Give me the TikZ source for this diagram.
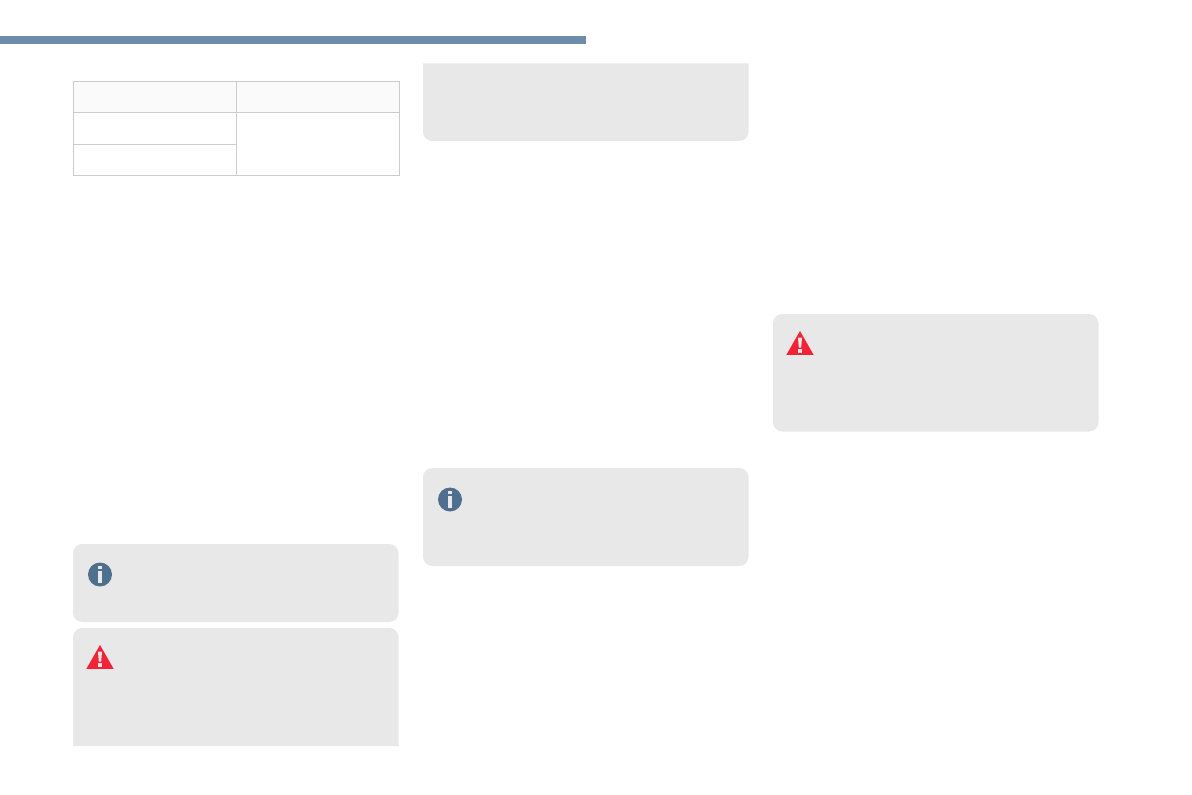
\documentclass[tikz,border=0pt]{standalone}
\definecolor{barblue}{HTML}{6D8DAA}
\definecolor{notegray}{HTML}{E8E8E8}
\definecolor{rulegray}{HTML}{CCCCCC}
\definecolor{headgray}{HTML}{FAFAFA}
\definecolor{infoblue}{HTML}{4F6F8F}
\definecolor{warnred}{HTML}{F32237}
\tikzset{
	notebox/.style={fill=notegray,draw=none},
	tablerule/.style={draw=rulegray,line width=0.9pt},
	iconmark/.style={fill=notegray,draw=none}
}
\begin{document}
\begin{tikzpicture}[x=0.75pt,y=-0.75pt]
	\useasboundingbox[fill=white] (0,0) rectangle (1192,795);
	% bar
	\fill[barblue] (0,36) rectangle (586,44);
	% table
	\fill[headgray] (73.5,81.5) rectangle (399.5,112.5);
	\draw[tablerule] (73.5,81.5) rectangle (399.5,175.5);
	\draw[tablerule] (73.5,112.5) -- (399.5,112.5);
	\draw[tablerule] (73.5,144.5) -- (236.5,144.5);
	\draw[tablerule] (236.5,81.5) -- (236.5,175.5);
	% boxes
	\foreach \x/\ya/\yb in {73/544/622,423/468/566,773/314/431.5}
		\fill[notebox,rounded corners=7pt] (\x,\ya) rectangle (\x+325.5,\yb);
	\fill[notebox,rounded corners=7pt] (73,746) [sharp corners] -- (73,640) [rounded corners=7pt] -- (73,628) -- (398.5,628) [sharp corners] -- (398.5,746) -- cycle;
	\fill[notebox,rounded corners=7pt] (423,63.5) [sharp corners] -- (748.5,63.5) -- (748.5,125) [rounded corners=7pt] -- (748.5,141) -- (423,141) [sharp corners] -- (423,125) -- cycle;
	% info icons
	\foreach \x/\y in {100/574.5,450/499.5}{
		\fill[infoblue] (\x,\y) circle[radius=12];
		\fill[iconmark] (\x-1.7,\y-8.7) rectangle (\x+1.7,\y-5.9);
		\fill[iconmark] (\x-1.7,\y-3.9) rectangle (\x+1.7,\y+8.2);
	}
	% warning icons
	\foreach \x/\y in {100/645,800/331}{
		\fill[warnred] (\x,\y) -- (\x+13.6,\y+23.8) -- (\x-13.6,\y+23.8) -- cycle;
		\fill[iconmark] (\x-2,\y+6.7) -- (\x+2,\y+6.7) -- (\x+1.2,\y+16.7) -- (\x-1.2,\y+16.7) -- cycle;
		\fill[iconmark] (\x-1.8,\y+18.3) rectangle (\x+1.8,\y+21.7);
	}
\end{tikzpicture}
\end{document}
